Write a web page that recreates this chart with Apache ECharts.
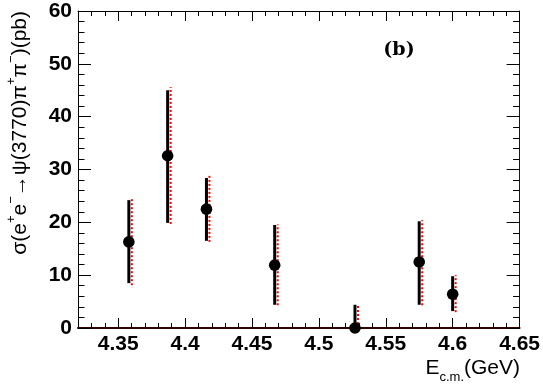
<!DOCTYPE html>
<html>
<head>
<meta charset="utf-8">
<script src="https://cdn.jsdelivr.net/npm/echarts@6/dist/echarts.min.js"></script>
<style>
  html, body { margin: 0; padding: 0; background: #fff; }
  #chart { width: 543px; height: 384px; }
</style>
</head>
<body>
<div id="chart"></div>
<script>
// centre-of-mass energies (GeV)
const energy = [4.358, 4.387, 4.416, 4.467, 4.527, 4.575, 4.600];
// cross section (pb)
const sigma = [16.3, 32.6, 22.5, 11.9, 0.0, 12.5, 6.4];
// statistical error band (black)
const statLow = [8.5, 19.9, 16.5, 4.4, 0.0, 4.4, 3.2];
const statHigh = [24.2, 45.0, 28.4, 19.5, 4.4, 20.2, 9.8];
// total error band (red dotted)
const sysLow = [8.1, 19.7, 16.3, 4.3, 0.0, 4.3, 3.0];
const sysHigh = [24.4, 45.6, 28.8, 19.6, 4.2, 20.4, 10.0];
// x tick labels
const xMajorTicks = [4.35, 4.40, 4.45, 4.50, 4.55, 4.60, 4.65];
const xTickLabels = ['4.35', '4.4', '4.45', '4.5', '4.55', '4.6', '4.65'];

const xMinorTicks = [];
for (let i = 433; i <= 464; i++) {
    if (i % 5 !== 0) xMinorTicks.push(i / 100);
}

const points = energy.map((e, i) => [e, sigma[i], statLow[i], statHigh[i], sysLow[i], sysHigh[i]]);

const chart = echarts.init(document.getElementById('chart'));

const tickFont = {
    fontFamily: 'Liberation Sans',
    fontSize: 21,
    fontWeight: 'bold',
    color: '#000'
};

function xAxisDef(position, ticks, len, showLine, showLabel) {
    return {
        type: 'value',
        min: 4.32,
        max: 4.65,
        position: position,
        axisLine: {
            show: showLine,
            onZero: false,
            lineStyle: { color: position === 'bottom' ? '#300' : '#000', width: position === 'bottom' ? 2 : 1 }
        },
        axisTick: {
            show: true,
            inside: true,
            length: len,
            customValues: ticks,
            lineStyle: { color: '#000', width: 1 }
        },
        axisLabel: showLabel ? Object.assign({
            customValues: xMajorTicks,
            margin: 6,
            formatter: (v) => xTickLabels[xMajorTicks.findIndex(t => Math.abs(t - v) < 1e-6)] || ''
        }, tickFont) : { show: false },
        splitLine: { show: false }
    };
}

function yAxisDef(position, showLabel) {
    return {
        type: 'value',
        min: 0,
        max: 60,
        interval: 10,
        position: position,
        axisLine: {
            show: true,
            onZero: false,
            lineStyle: { color: position === 'right' ? '#500' : '#000', width: 1 }
        },
        axisTick: { show: true, inside: true, length: 13, lineStyle: { color: '#000' } },
        minorTick: { show: true, splitNumber: 5, length: 6.5, lineStyle: { color: '#000' } },
        axisLabel: showLabel ? Object.assign({ margin: 6 }, tickFont) : { show: false },
        splitLine: { show: false },
        minorSplitLine: { show: false }
    };
}

const option = {
    animation: false,
    backgroundColor: '#fff',
    grid: { left: 78, right: 23, top: 11, bottom: 56, containLabel: false },
    xAxis: [
        xAxisDef('bottom', xMajorTicks, 10, true, true),
        xAxisDef('bottom', xMinorTicks, 5, false, false),
        xAxisDef('top', xMajorTicks, 10, true, false),
        xAxisDef('top', xMinorTicks, 5, false, false)
    ],
    yAxis: [
        yAxisDef('left', true),
        yAxisDef('right', false)
    ],
    series: [{
        type: 'custom',
        xAxisIndex: 0,
        yAxisIndex: 0,
        clip: false,
        data: points,
        renderItem: function (params, api) {
            const x = api.value(0);
            const c = api.coord([x, api.value(1)]);
            const lo = api.coord([x, api.value(2)]);
            const hi = api.coord([x, api.value(3)]);
            const rlo = api.coord([x, api.value(4)]);
            const rhi = api.coord([x, api.value(5)]);
            const rx = c[0] + 3;
            return {
                type: 'group',
                children: [
                    {
                        type: 'line',
                        shape: { x1: rx, y1: rlo[1], x2: rx, y2: rhi[1] },
                        style: { stroke: '#ff0000', lineWidth: 2, lineDash: [2, 2] }
                    },
                    {
                        type: 'line',
                        shape: { x1: c[0], y1: lo[1], x2: c[0], y2: hi[1] },
                        style: { stroke: '#000', lineWidth: 3 }
                    },
                    {
                        type: 'circle',
                        shape: { cx: c[0], cy: c[1], r: 5.8 },
                        style: { fill: '#000' }
                    }
                ]
            };
        }
    }],
    graphic: [
        {
            type: 'text',
            x: 18,
            y: 11,
            rotation: Math.PI / 2,
            style: {
                text: '{m|σ(e}{s|+}{m|e}{s|−}{m|→ψ(3770)π}{s|+}{m|π}{s|−}{m|)(pb)}',
                align: 'right',
                verticalAlign: 'middle',
                rich: {
                    m: { fontFamily: 'Liberation Sans', fontSize: 21, color: '#000', lineHeight: 26, verticalAlign: 'bottom' },
                    s: { fontFamily: 'Liberation Sans', fontSize: 13, color: '#000', lineHeight: 26, verticalAlign: 'top' }
                }
            }
        },
        {
            type: 'text',
            x: 520,
            y: 371,
            style: {
                text: '{m|E}{s|c.m.}{m|(GeV)}',
                align: 'right',
                verticalAlign: 'middle',
                rich: {
                    m: { fontFamily: 'Liberation Sans', fontSize: 21, color: '#000', lineHeight: 26, verticalAlign: 'top' },
                    s: { fontFamily: 'Liberation Sans', fontSize: 13, color: '#000', lineHeight: 26, verticalAlign: 'bottom' }
                }
            }
        },
        {
            type: 'text',
            x: 399,
            y: 50,
            style: {
                text: '(b)',
                align: 'center',
                verticalAlign: 'middle',
                fontFamily: 'DejaVu Serif',
                fontWeight: 'bold',
                fontSize: 19,
                fill: '#000'
            }
        }
    ]
};

chart.setOption(option);
</script>
</body>
</html>
